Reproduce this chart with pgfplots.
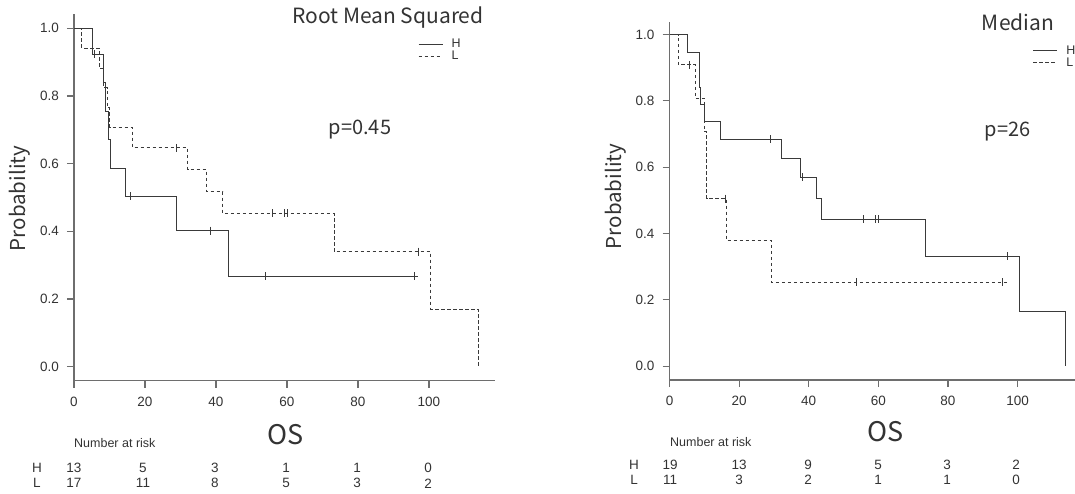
\documentclass[border=0pt]{standalone}
\usepackage{pgfplots}
\pgfplotsset{compat=1.18}
\usepackage{fontspec}
\setmainfont{Liberation Sans}
\newfontfamily\jp{Noto Sans CJK JP}
\definecolor{txt}{HTML}{333333}
\definecolor{axc}{HTML}{6E6E6E}
\definecolor{crv}{HTML}{3A3A3A}
\pgfplotsset{kmaxis/.style={
  scale only axis, axis lines=left,
  axis line style={-, axc, line width=1.1pt},
  tick align=outside, major tick length=7pt,
  tick style={axc, line width=1.1pt},
  xtick={0,20,40,60,80,100}, ytick={0,0.2,0.4,0.6,0.8,1},
  ticklabel style={font=\fontsize{13.5}{14}\selectfont, text=txt},
  yticklabel style={xshift=-4.5pt, /pgf/number format/.cd, fixed, fixed zerofill, precision=1},
  xticklabel style={yshift=-5.5pt},
  /pgf/number format/assume math mode=true,
  legend style={draw=none, fill=none, anchor=north west, inner sep=0pt,
    row sep=-1pt, font=\fontsize{12.5}{12.5}\selectfont, text=txt,
    nodes={inner sep=1.5pt},
    /tikz/every odd column/.append style={column sep=7pt}},
  legend cell align=left,
  legend image code/.code={\draw[#1] (0pt,0pt) -- (24pt,0pt);},
  clip=false,
},
hline/.style={crv, line width=0.9pt, const plot},
lline/.style={crv, line width=0.9pt, const plot, dash pattern=on 3.5pt off 2.5pt},
cens/.style={only marks, mark=|, mark size=4pt, crv, forget plot, mark options={line width=0.9pt, solid}},
}
\begin{document}
\begin{tikzpicture}[x=1pt,y=1pt]
\useasboundingbox (0,0) rectangle (1075,493);
% ---------- left ----------
\begin{axis}[kmaxis, anchor=south west, at={(74pt,112.1pt)},
  width=421pt, height=366.8pt, xmin=0, xmax=118.6, ymin=-0.042, ymax=1.042,
  legend style={at={(rel axis cs:0.817,0.936)}}]
\addplot[hline] coordinates {(0,1) (5.2,0.923) (8.4,0.839) (8.8,0.755) (9.7,0.671) (10.4,0.587) (14.4,0.503) (28.9,0.402) (43.6,0.268) (97,0.268)};
\addplot[lline] coordinates {(0,1) (2.2,0.941) (7.1,0.882) (8.3,0.824) (9.4,0.765) (10.1,0.706) (16.5,0.647) (32.0,0.582) (37.4,0.517) (41.9,0.453) (73.3,0.340) (100.5,0.170) (113.8,0)};
\legend{H,L}
\addplot[cens] coordinates {(5.8,0.923) (15.8,0.503) (38.3,0.402) (53.8,0.268) (95.8,0.268)};
\addplot[cens] coordinates {(28.9,0.647) (55.9,0.453) (59.4,0.453) (60.0,0.453) (97.0,0.340)};
\end{axis}
% ---------- right ----------
\begin{axis}[kmaxis, anchor=south west, at={(669.5pt,113pt)},
  width=405.5pt, height=358.3pt, xmin=0, xmax=116.5, ymin=-0.042, ymax=1.039,
  legend style={at={(rel axis cs:0.896,0.938)}}]
\addplot[hline] coordinates {(0,1) (5.2,0.947) (8.5,0.842) (8.9,0.789) (10.0,0.737) (14.5,0.684) (32.2,0.627) (37.5,0.570) (42.3,0.507) (43.7,0.443) (73.4,0.332) (100.4,0.166) (113.8,0)};
\addplot[lline] coordinates {(0,1) (2.5,0.909) (7.4,0.808) (10.0,0.707) (10.7,0.505) (16.4,0.379) (29.2,0.253) (97,0.253)};
\legend{H,L}
\addplot[cens] coordinates {(29.0,0.684) (38.3,0.570) (55.7,0.443) (59.3,0.443) (60.0,0.443) (97.1,0.332)};
\addplot[cens] coordinates {(5.7,0.909) (16.2,0.505) (53.8,0.253) (95.7,0.253)};
\end{axis}
% ---------- texts ----------
\begin{scope}[every node/.style={text=txt, inner sep=0pt}]
\node[font=\jp\fontsize{21}{22}\selectfont] at (388,475) {Root Mean Squared};
\node[font=\jp\fontsize{20}{22}\selectfont] at (360,363) {p=0.45};
\node[font=\jp\fontsize{20.5}{22}\selectfont, rotate=90] at (20,294.5) {Probability};
\node[font=\jp\fontsize{27}{28}\selectfont] at (286,58) {OS};
\node[font=\fontsize{12.5}{13}\selectfont, anchor=west] at (74,49.7) {Number at risk};
\begin{scope}[every node/.append style={font=\fontsize{13.5}{13.5}\selectfont}]
\node at (37,25.3) {H}; \node at (37,9.7) {L};
\node at (74,25.3) {13}; \node at (143,25.3) {5}; \node at (215,25.3) {3}; \node at (286,25.3) {1}; \node at (357,25.3) {1}; \node at (428,25.3) {0};
\node at (74,9.7) {17}; \node at (143,9.7) {11}; \node at (215,9.7) {8}; \node at (286,9.7) {5}; \node at (357,9.7) {3}; \node at (428,9.7) {2};
\end{scope}
\node[font=\jp\fontsize{21}{22}\selectfont] at (1018,470.3) {Median};
\node[font=\jp\fontsize{20}{22}\selectfont] at (1007.5,361.3) {p=26};
\node[font=\jp\fontsize{20.5}{22}\selectfont, rotate=90] at (615.5,296.5) {Probability};
\node[font=\jp\fontsize{27}{28}\selectfont] at (885.7,61.3) {OS};
\node[font=\fontsize{12.5}{13}\selectfont, anchor=west] at (670,51.3) {Number at risk};
\begin{scope}[every node/.append style={font=\fontsize{13.5}{13.5}\selectfont}]
\node at (634,28) {H}; \node at (634,13) {L};
\node at (670,28) {19}; \node at (739,28) {13}; \node at (808,28) {9}; \node at (878,28) {5}; \node at (947,28) {3}; \node at (1016,28) {2};
\node at (670,13) {11}; \node at (739,13) {3}; \node at (808,13) {2}; \node at (878,13) {1}; \node at (947,13) {1}; \node at (1016,13) {0};
\end{scope}
\end{scope}
\end{tikzpicture}
\end{document}
